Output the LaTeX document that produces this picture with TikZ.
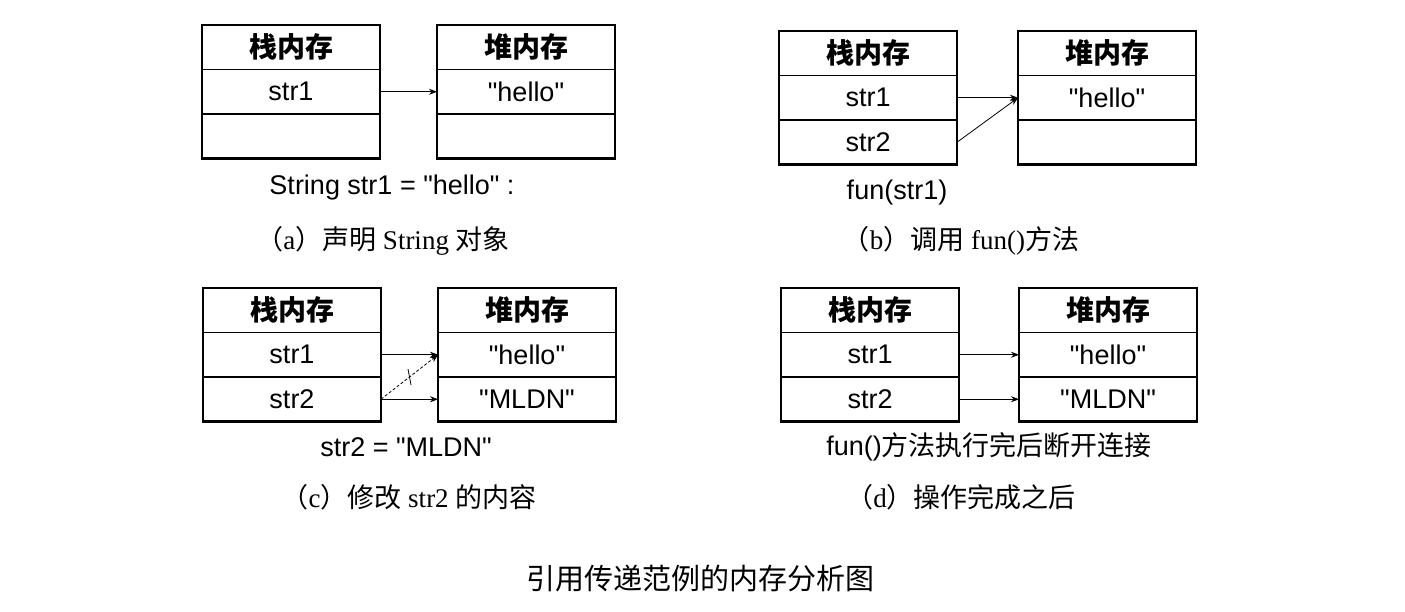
\documentclass[tikz,border=0pt]{standalone}
\usepackage{fontspec}
\setmainfont{Liberation Serif}
\setsansfont{Liberation Sans}
\newfontfamily\cjk{Noto Sans CJK SC}
\usetikzlibrary{positioning,arrows.meta}
\newcommand\zh[1]{{\cjk #1}}
\newcommand\qq[1]{\textquotedbl #1\textquotedbl}
\newcommand\memtab[6]{%
  \node[cell, anchor=north west] (#1h) at (#2, #3) {\cjk\bfseries\fontsize{28}{32}\selectfont #4};
  \node[cell, below=0pt of #1h] (#11) {#5};
  \node[cell, below=0pt of #11] (#12) {#6};
  \draw[line width=2.6pt] (#1h.north west) rectangle (#12.south east);
}
\tikzset{
  cell/.style={draw, line width=1.3pt, minimum width=178pt, minimum height=44.5pt, inner sep=0pt, outer sep=0pt, font=\sffamily\fontsize{27}{30}\selectfont},
  ref/.style={line width=0.8pt, -{Stealth[length=8pt, width=6pt]}},
  code/.style={font=\sffamily\fontsize{27}{30}\selectfont},
  capt/.style={font=\fontsize{27}{30}\selectfont}
}
\begin{document}
\begin{tikzpicture}[x=1pt, y=-1pt]
  \useasboundingbox (0, 0) rectangle (1405, 611);
  \memtab{as}{202}{25}{栈内存}{str1}{}
  \memtab{ah}{437}{25}{堆内存}{\qq{hello}}{}
  \memtab{bs}{779}{31}{栈内存}{str1}{str2}
  \memtab{bh}{1018}{31}{堆内存}{\qq{hello}}{}
  \memtab{cs}{203}{288}{栈内存}{str1}{str2}
  \memtab{ch}{438}{288}{堆内存}{\qq{hello}}{\qq{MLDN}}
  \memtab{ds}{781}{288}{栈内存}{str1}{str2}
  \memtab{dh}{1019}{288}{堆内存}{\qq{hello}}{\qq{MLDN}}
  \draw[ref] (as1.east) -- (ah1.west);
  \draw[ref] (bs1.east) -- (bh1.west);
  \draw[ref] (bs2.east) -- (bh1.west);
  \draw[ref] (cs1.east) -- (ch1.west);
  \draw[ref] (cs2.east) -- (ch2.west);
  \draw[ref, dash pattern=on 3pt off 2pt] (cs2.east) -- coordinate[pos=0.5] (cut) (ch1.west);
  \draw[line width=0.8pt] ([shift={(-1.5, -8)}]cut) -- ([shift={(1.5, 8)}]cut);
  \draw[ref] (ds1.east) -- (dh1.west);
  \draw[ref] (ds2.east) -- (dh2.west);
  \node[code] (acode) at (392, 188) {String str1 = \qq{hello} :};
  \node[code] (bcode) at (897, 193) {fun(str1)};
  \node[code] (ccode) at (406, 447) {str2 = \qq{MLDN}};
  \node[code] (dcode) at (989, 447) {fun()\zh{方法执行完后断开连接}};
  \node[capt] (acapt) at (383, 241) {\zh{（}a\zh{）声明} String \zh{对象}};
  \node[capt] (bcapt) at (961, 241) {\zh{（}b\zh{）调用} fun()\zh{方法}};
  \node[capt] (ccapt) at (409, 497) {\zh{（}c\zh{）修改} str2 \zh{的内容}};
  \node[capt] (dcapt) at (961, 497) {\zh{（}d\zh{）操作完成之后}};
  \node[capt, font=\fontsize{29}{32}\selectfont] (title) at (700, 578) {\zh{引用传递范例的内存分析图}};
\end{tikzpicture}
\end{document}
